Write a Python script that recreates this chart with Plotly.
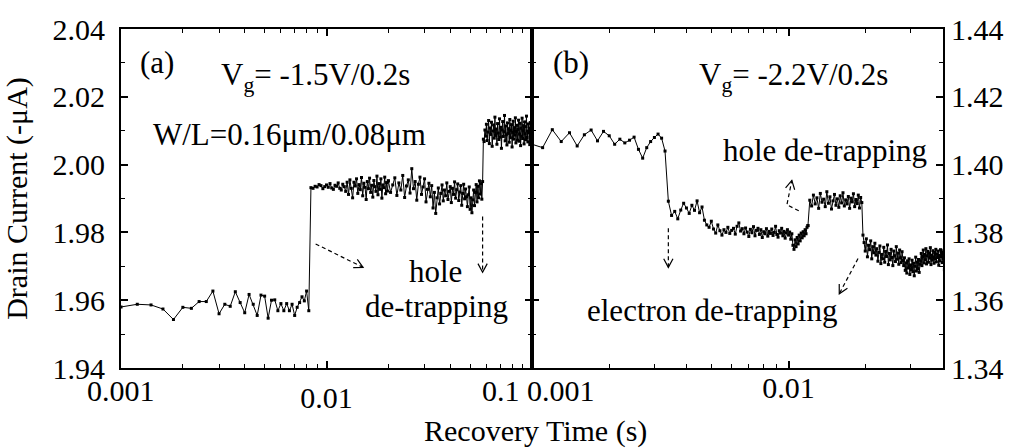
import math
import plotly.graph_objects as go

# ---------------- data ----------------
# panel (a): Vg = -1.5V/0.2s, sampled on two regular time grids
left_a_t0 = 0.001
left_a_dt = 0.0002
left_a_y = [
    1.9580, 1.9588, 1.9586, 1.9574, 1.9543, 1.9579, 1.9576, 1.9596, 1.9596, 1.9627,
    1.9560, 1.9588, 1.9582, 1.9625, 1.9593, 1.9563, 1.9617, 1.9588, 1.9555, 1.9615,
    1.9612, 1.9547, 1.9600, 1.9601, 1.9569, 1.9590, 1.9569, 1.9590, 1.9569, 1.9588,
    1.9555, 1.9579, 1.9593, 1.9610, 1.9598, 1.9627, 1.9569,
    1.9932, 1.9930, 1.9936, 1.9934, 1.9941, 1.9938, 1.9929, 1.9935, 1.9940, 1.9933,
    1.9944, 1.9931, 1.9927, 1.9939, 1.9936, 1.9946, 1.9930, 1.9925, 1.9942, 1.9935,
    1.9921, 1.9948,
    1.9912, 1.9955, 1.9930, 1.9902, 1.9948, 1.9937, 1.9958, 1.9915, 1.9941, 1.9926,
    1.9962, 1.9908, 1.9945, 1.9933, 1.9897, 1.9950, 1.9929, 1.9960, 1.9918, 1.9939,
    1.9904, 1.9953, 1.9935, 1.9921, 1.9966, 1.9911, 1.9944, 1.9927, 1.9958, 1.9901,
    1.9940, 1.9932, 1.9963, 1.9914, 1.9947, 1.9922, 1.9952,
]
left_b_t0 = 0.020
left_b_dt = 0.0005
left_b_y = [
    1.9952, 1.9918, 1.9940, 1.9961, 1.9909, 1.9946, 1.9925, 1.9968, 1.9903, 1.9937,
    1.9955, 1.9916, 1.9988, 1.9929, 1.9950, 1.9895, 1.9942, 1.9963, 1.9912, 1.9934,
    1.9958, 1.9890, 1.9927, 1.9945, 1.9905, 1.9938, 1.9872, 1.9918, 1.9856, 1.9902,
    1.9931, 1.9884, 1.9915, 1.9940, 1.9893, 1.9925, 1.9908, 1.9946, 1.9897, 1.9921,
    1.9935, 1.9888, 1.9930, 1.9912, 1.9949, 1.9901, 1.9926, 1.9943, 1.9894, 1.9919,
    1.9938, 1.9880, 1.9915, 1.9942, 1.9899, 1.9928, 1.9905, 1.9876, 1.9911, 1.9934,
    1.9868, 1.9902, 1.9858, 1.9896, 1.9925, 1.9879, 1.9918, 1.9941, 1.9890, 1.9936,
    1.9902, 1.9952, 1.9913, 1.9944, 1.9898, 1.9950,
    2.0075, 2.0068, 2.0102, 2.0084, 2.0119, 2.0071, 2.0096, 2.0130, 2.0062, 2.0108,
    2.0089, 2.0125, 2.0054, 2.0099, 2.0117, 2.0078, 2.0140, 2.0086, 2.0105, 2.0060,
    2.0121, 2.0093, 2.0074, 2.0135, 2.0081, 2.0110, 2.0048, 2.0102, 2.0127, 2.0083,
    2.0097, 2.0145, 2.0070, 2.0114, 2.0088, 2.0058, 2.0123, 2.0092, 2.0106, 2.0066,
    2.0133, 2.0079, 2.0101, 2.0118, 2.0052, 2.0095, 2.0128, 2.0075, 2.0109, 2.0087,
    2.0138, 2.0064, 2.0098, 2.0116, 2.0072, 2.0104, 2.0131, 2.0069, 2.0090, 2.0122,
    2.0056, 2.0107, 2.0084, 2.0137, 2.0077, 2.0100, 2.0115, 2.0061, 2.0126, 2.0091,
    2.0073, 2.0112, 2.0143, 2.0080, 2.0099, 2.0067, 2.0120, 2.0094, 2.0108, 2.0059,
    2.0124, 2.0086, 2.0103, 2.0071, 2.0113,
]

# panel (b): Vg = -2.2V/0.2s
right_a_t0 = 0.001
right_a_dt = 0.0001
right_a_y = [
    1.4060, 1.4050, 1.4103, 1.4068, 1.4094, 1.4055, 1.4088, 1.4102, 1.4070, 1.4098,
    1.4085, 1.4060, 1.4075, 1.4064, 1.4072, 1.4081, 1.4045, 1.4019, 1.4050, 1.4068,
    1.4080, 1.4090, 1.4078, 1.4040,
    1.3892, 1.3850, 1.3862, 1.3840, 1.3866, 1.3886, 1.3872, 1.3856, 1.3880, 1.3865,
    1.3893, 1.3858, 1.3875, 1.3836, 1.3822, 1.3815, 1.3833, 1.3810, 1.3798, 1.3822,
    1.3805, 1.3792, 1.3808, 1.3800, 1.3815, 1.3797, 1.3806, 1.3812, 1.3795, 1.3818,
    1.3828, 1.3804, 1.3811, 1.3796, 1.3813, 1.3801, 1.3788, 1.3809, 1.3799, 1.3817,
    1.3790, 1.3806, 1.3812, 1.3794, 1.3808, 1.3785, 1.3802, 1.3796, 1.3811, 1.3789,
    1.3803, 1.3797, 1.3810, 1.3791, 1.3800, 1.3818, 1.3794, 1.3786, 1.3805, 1.3798,
    1.3812, 1.3790, 1.3803, 1.3783, 1.3799, 1.3808, 1.3792, 1.3801, 1.3780, 1.3796,
    1.3762, 1.3750, 1.3778, 1.3758, 1.3785, 1.3766, 1.3792, 1.3775, 1.3798, 1.3784,
    1.3802, 1.3790, 1.3808, 1.3796, 1.3815, 1.3820,
]
right_b_t0 = 0.0119
right_b_dt = 0.0002
right_b_y = [
    1.3820,
    1.3895, 1.3878, 1.3910, 1.3884, 1.3902, 1.3871, 1.3915, 1.3889, 1.3898, 1.3876,
    1.3920, 1.3886, 1.3905, 1.3869, 1.3893, 1.3912, 1.3880, 1.3899, 1.3874, 1.3908,
    1.3887, 1.3917, 1.3878, 1.3896, 1.3884, 1.3906, 1.3871, 1.3901, 1.3890, 1.3914,
    1.3876, 1.3897, 1.3885, 1.3910, 1.3872, 1.3903, 1.3888,
    1.3792, 1.3770, 1.3745, 1.3781, 1.3728, 1.3762, 1.3749, 1.3775, 1.3722, 1.3758,
    1.3740, 1.3768, 1.3733,
    1.3752, 1.3715, 1.3741, 1.3760, 1.3708, 1.3735, 1.3722, 1.3756, 1.3712, 1.3744,
    1.3729, 1.3763, 1.3705, 1.3738, 1.3719, 1.3750, 1.3726, 1.3702, 1.3745, 1.3731,
    1.3714, 1.3758, 1.3721, 1.3739, 1.3706, 1.3748, 1.3725, 1.3711, 1.3743, 1.3717,
    1.3702, 1.3725, 1.3688, 1.3710, 1.3680, 1.3716, 1.3695, 1.3722, 1.3676, 1.3704,
    1.3690, 1.3718, 1.3684, 1.3709, 1.3672, 1.3700, 1.3727, 1.3686, 1.3712, 1.3693,
    1.3720, 1.3682, 1.3706,
    1.3715, 1.3738, 1.3702, 1.3729, 1.3748, 1.3710, 1.3735, 1.3719, 1.3752, 1.3707,
    1.3731, 1.3744, 1.3712, 1.3739, 1.3724, 1.3755, 1.3705, 1.3733, 1.3718, 1.3746,
    1.3727, 1.3709, 1.3741, 1.3722, 1.3750, 1.3713, 1.3736, 1.3726, 1.3745, 1.3703,
    1.3732, 1.3716, 1.3749, 1.3728, 1.3742, 1.3711, 1.3737, 1.3723, 1.3747, 1.3690,
]

left_y_ticks = [1.94, 1.96, 1.98, 2.00, 2.02, 2.04]
right_y_ticks = [1.34, 1.36, 1.38, 1.40, 1.42, 1.44]
x_major_ticks = [0.01]
x_major_labels = ["0.01"]

# ---------------- figure ----------------
W, H = 1016, 448
ML, MR, MT, MB = 121, 63, 21, 80
PW, PH = W - ML - MR, H - MT - MB
FONT = "Liberation Serif"
FS = 30
FS_TXT = 31


def P(X, Y):
    return (X - ML) / PW, (H - MB - Y) / PH


line_style = dict(color="black", width=1)
marker_style = dict(color="black", size=3, symbol="square")

fig = go.Figure()
for t0, dt, ys, xa, ya in [
    (left_a_t0, left_a_dt, left_a_y, "x", "y"),
    (left_b_t0, left_b_dt, left_b_y, "x", "y"),
    (right_a_t0, right_a_dt, right_a_y, "x2", "y2"),
    (right_b_t0, right_b_dt, right_b_y, "x2", "y2"),
]:
    fig.add_trace(go.Scatter(x0=t0, dx=dt, y=ys, mode="lines+markers",
                             line=line_style, marker=marker_style,
                             xaxis=xa, yaxis=ya, showlegend=False,
                             hoverinfo="skip"))

minor_x = [m * 10 ** e for e in (-3, -2) for m in range(2, 10)]

axis_common = dict(showline=True, linecolor="black", linewidth=2,
                   mirror="allticks", ticks="inside", ticklen=7, tickwidth=1.5,
                   tickcolor="black", showgrid=False, zeroline=False,
                   tickfont=dict(family=FONT, size=FS, color="black"))
minor_common = dict(ticks="inside", ticklen=4, tickcolor="black",
                    tickwidth=1.2, showgrid=False)

fig.update_layout(
    width=W, height=H,
    margin=dict(l=ML, r=MR, t=MT, b=MB),
    paper_bgcolor="white", plot_bgcolor="white",
    font=dict(family=FONT, size=FS, color="black"),
    showlegend=False,
    xaxis=dict(type="log", range=[-3, -1], domain=[0, 0.5], anchor="y",
               tickvals=x_major_ticks, ticktext=x_major_labels,
               ticklabelstandoff=2,
               minor=dict(tickvals=minor_x, **minor_common),
               **axis_common),
    xaxis2=dict(type="log", range=[-3, -1.398], domain=[0.5, 1], anchor="y2",
                tickvals=x_major_ticks, ticktext=x_major_labels,
                ticklabelstandoff=-8,
                minor=dict(tickvals=minor_x, **minor_common),
                **axis_common),
    yaxis=dict(range=[1.94, 2.04], anchor="x",
               tickvals=left_y_ticks, ticktext=[f"{v:.2f}" for v in left_y_ticks],
               ticklabelstandoff=8,
               title=dict(text="Drain Current (-μA)", standoff=16,
                          font=dict(family=FONT, size=FS, color="black")),
               minor=dict(dtick=0.01, **minor_common),
               **axis_common),
    yaxis2=dict(range=[1.34, 1.44], anchor="x2", side="right",
                tickvals=right_y_ticks, ticktext=[f"{v:.2f}" for v in right_y_ticks],
                ticklabelstandoff=0,
                minor=dict(dtick=0.01, **minor_common),
                **axis_common),
)

# ---------------- text ----------------
def txt(text, X, Y, size=FS_TXT, xanchor="center", angle=0):
    x, y = P(X, Y)
    fig.add_annotation(text=text, x=x, y=y, xref="paper", yref="paper",
                       xanchor=xanchor, yanchor="middle", showarrow=False,
                       textangle=angle,
                       font=dict(family=FONT, size=size, color="black"))

# tick labels at the shared panel edges, shifted like the original
def xlabel(text, logx, xref, xanchor, xshift, Y):
    fig.add_annotation(text=text, x=logx, xref=xref, xshift=xshift,
                       y=P(0, Y)[1], yref="paper", xanchor=xanchor,
                       yanchor="middle", showarrow=False,
                       font=dict(family=FONT, size=FS, color="black"))

xlabel("0.001", -3, "x", "center", 0, 391)
xlabel("0.1", -1, "x", "right", -10, 391)
xlabel("0.001", -3, "x2", "left", -7, 391)

txt("Recovery Time (s)", 541, 432, size=FS)
txt("(a)", 157, 55)
txt("(b)", 576, 55)
txt("V<sub>g</sub>= -1.5V/0.2s", 318, 70)
txt("V<sub>g</sub>= -2.2V/0.2s", 802, 70)
txt("W/L=0.16μm/0.08μm", 292, 129)
txt("hole", 439, 269)
txt("de-trapping", 440, 305)
txt("hole de-trapping", 834, 145)
txt("electron de-trapping", 719, 309)

# ---------------- dashed arrows with open heads ----------------
arrows = [
    [(318, 241), (366, 265)],
    [(487, 213), (487, 270)],
    [(675, 225), (675, 265)],
    [(807, 207), (795, 201), (800, 176)],
    [(867, 256), (848, 292)],
]


def path_of(pts):
    return "M " + " L ".join(f"{P(X, Y)[0]:.5f},{P(X, Y)[1]:.5f}" for X, Y in pts)


for pts in arrows:
    fig.add_shape(type="path", path=path_of(pts), xref="paper", yref="paper",
                  line=dict(color="black", width=1.2, dash="4px,3px"))
    (x1, y1), (x2, y2) = pts[-2], pts[-1]
    ang = math.atan2(y2 - y1, x2 - x1)
    wings = []
    for s in (1, -1):
        a = ang + math.pi - s * math.radians(28)
        wings.append((x2 + 10 * math.cos(a), y2 + 10 * math.sin(a)))
    fig.add_shape(type="path", path=path_of([wings[0], (x2, y2), wings[1]]),
                  xref="paper", yref="paper",
                  line=dict(color="black", width=1.2))

fig.write_html("out.html")
